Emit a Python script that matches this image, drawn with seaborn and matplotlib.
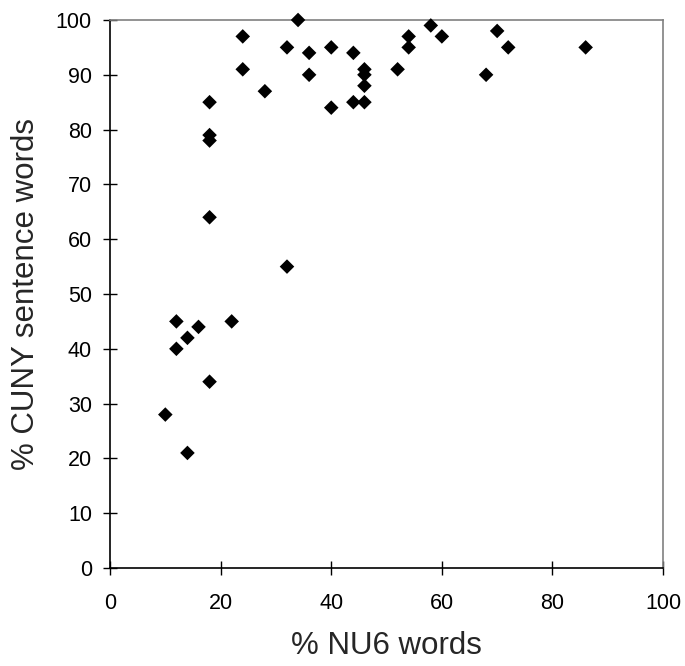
import matplotlib
matplotlib.use("Agg")
import matplotlib.pyplot as plt
import seaborn as sns
import pandas as pd

nu6 = [10, 12, 12, 14, 14, 16, 18, 18, 18, 18, 18, 22, 24, 24, 28, 32, 32, 34, 36, 36,
       40, 40, 44, 44, 46, 46, 46, 46, 52, 54, 54, 58, 60, 68, 70, 72, 86]
cuny = [28, 45, 40, 42, 21, 44, 85, 79, 78, 64, 34, 45, 97, 91, 87, 95, 55, 100, 94, 90,
        95, 84, 94, 85, 91, 90, 88, 85, 91, 97, 95, 99, 97, 90, 98, 95, 95]
xticks = [0, 20, 40, 60, 80, 100]
yticks = [0, 10, 20, 30, 40, 50, 60, 70, 80, 90, 100]

df = pd.DataFrame({"nu6": nu6, "cuny": cuny})

sns.set_style("white")
plt.rcParams["font.family"] = ["Liberation Sans", "DejaVu Sans"]

fig = plt.figure(figsize=(6.85, 6.66), dpi=100)
ax = fig.add_axes([0.1606, 0.1471, 0.8074, 0.8229])
sns.scatterplot(data=df, x="nu6", y="cuny", ax=ax, marker="D", s=55,
                color="black", edgecolor="none", clip_on=False, zorder=3)
ax.set_xlim(0, 100)
ax.set_ylim(0, 100)
ax.set_xticks(xticks)
ax.set_yticks(yticks)
ax.tick_params(axis="both", direction="inout", length=10, width=1, labelsize=15.5,
               colors="black", bottom=True, left=True)
ax.tick_params(axis="x", pad=13)
ax.tick_params(axis="y", pad=8)
ax.set_xlabel("% NU6 words", fontsize=22.5, labelpad=12)
ax.set_ylabel("% CUNY sentence words", fontsize=22.5, labelpad=11)
for side in ["left", "bottom"]:
    ax.spines[side].set_color("black")
    ax.spines[side].set_linewidth(1.2)
for side in ["top", "right"]:
    ax.spines[side].set_visible(True)
    ax.spines[side].set_color("#808080")
    ax.spines[side].set_linewidth(1.2)
fig.savefig("out.png", dpi=100)
